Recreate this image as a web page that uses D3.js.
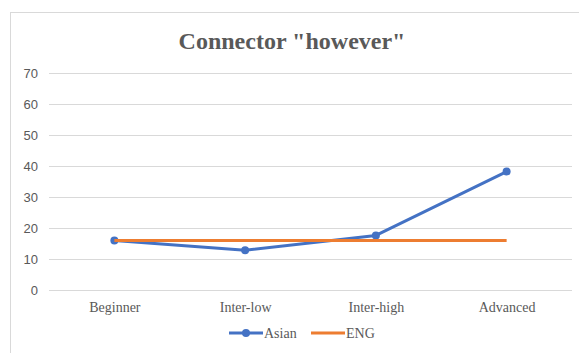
<!DOCTYPE html>
<html>
<head>
<meta charset="utf-8">
<script src="https://cdn.jsdelivr.net/npm/d3@7"></script>
<style>
  body { margin: 0; background: #fff; }
  .serif { font-family: "Liberation Serif", "Times New Roman", Times, serif; }
  .sans { font-family: "Liberation Sans", Arial, sans-serif; }
</style>
</head>
<body>
<div id="chart"></div>
<script>
const categories = ["Beginner", "Inter-low", "Inter-high", "Advanced"];
const asian = [16, 12.8, 17.6, 38.2];
const eng = [16, 16, 16, 16];
const yTicks = [0, 10, 20, 30, 40, 50, 60, 70];

var margin = {top: 73, right: 7, bottom: 63, left: 49},
    width = 579 - margin.left - margin.right,
    height = 353 - margin.top - margin.bottom;

var root = d3.select("#chart").append("svg")
    .attr("width", 579)
    .attr("height", 353);

// chart frame
root.append("rect")
    .attr("x", 10.5).attr("y", 12.5)
    .attr("width", 600).attr("height", 400)
    .attr("fill", "none")
    .attr("stroke", "#d9d9d9");

root.append("text")
    .attr("class", "serif")
    .attr("x", 292).attr("y", 49)
    .attr("text-anchor", "middle")
    .attr("font-size", 24)
    .attr("font-weight", "bold")
    .attr("fill", "#595959")
    .text('Connector "however"');

var svg = root.append("g")
    .attr("transform", "translate(" + margin.left + "," + margin.top + ")");

var xScale = d3.scalePoint()
    .domain(categories)
    .range([0, width])
    .padding(0.5);

var yScale = d3.scaleLinear()
    .domain([0, 70])
    .range([height, 0]);

// gridlines
svg.append("g")
    .selectAll("line")
    .data(yTicks)
    .join("line")
    .attr("x1", 0).attr("x2", width)
    .attr("y1", d => Math.round(yScale(d)) + 0.5)
    .attr("y2", d => Math.round(yScale(d)) + 0.5)
    .attr("stroke", "#d9d9d9");

var yAxis = d3.axisLeft(yScale)
    .tickValues(yTicks)
    .tickSize(0)
    .tickPadding(11);

svg.append("g")
    .call(yAxis)
    .attr("font-family", null)
    .attr("font-size", null)
    .call(g => g.select(".domain").remove())
    .selectAll("text")
    .attr("class", "sans")
    .attr("font-size", 13)
    .attr("fill", "#595959");

var xAxis = d3.axisBottom(xScale)
    .tickSize(0)
    .tickPadding(12);

svg.append("g")
    .attr("transform", "translate(0," + height + ")")
    .call(xAxis)
    .attr("font-family", null)
    .attr("font-size", null)
    .call(g => g.select(".domain").remove())
    .selectAll("text")
    .attr("class", "serif")
    .attr("font-size", 14)
    .attr("fill", "#595959");

const line = d3.line()
    .x((d, i) => xScale(categories[i]))
    .y(d => yScale(d));

svg.append("path")
    .attr("d", line(asian))
    .attr("stroke", "#4472c4")
    .attr("stroke-width", 3)
    .attr("stroke-linejoin", "round")
    .attr("fill", "none");

svg.append("g")
    .selectAll("circle")
    .data(asian)
    .join("circle")
    .attr("cx", (d, i) => xScale(categories[i]))
    .attr("cy", d => yScale(d))
    .attr("r", 4)
    .attr("fill", "#4472c4");

svg.append("path")
    .attr("d", line(eng))
    .attr("stroke", "#ed7d31")
    .attr("stroke-width", 3)
    .attr("fill", "none");

// legend
var legend = root.append("g")
    .attr("transform", "translate(0,333)");

legend.append("line")
    .attr("x1", 229).attr("x2", 263)
    .attr("stroke", "#4472c4").attr("stroke-width", 3);
legend.append("circle")
    .attr("cx", 246).attr("r", 4)
    .attr("fill", "#4472c4");
legend.append("text")
    .attr("class", "serif")
    .attr("x", 264).attr("y", 5)
    .attr("font-size", 14)
    .attr("fill", "#595959")
    .text("Asian");

legend.append("line")
    .attr("x1", 311).attr("x2", 345)
    .attr("stroke", "#ed7d31").attr("stroke-width", 3);
legend.append("text")
    .attr("class", "serif")
    .attr("x", 346).attr("y", 5)
    .attr("font-size", 14)
    .attr("fill", "#595959")
    .text("ENG");
</script>
</body>
</html>
